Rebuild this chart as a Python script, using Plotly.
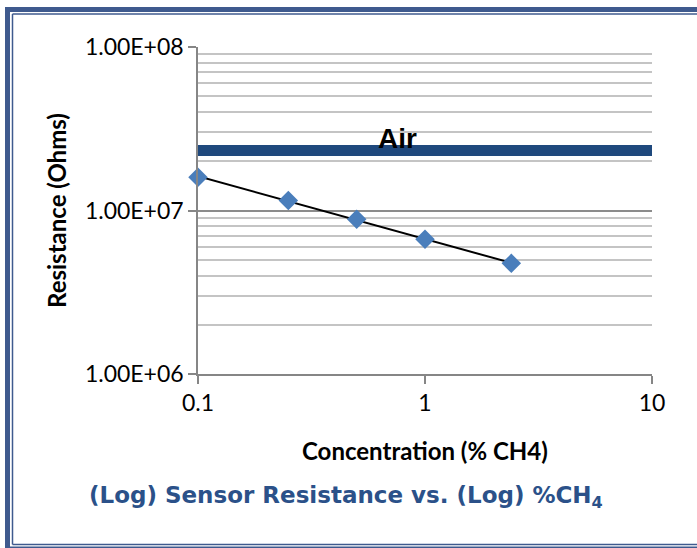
import numpy as np
import plotly.graph_objects as go

# ---- data ----
concentration = [0.1, 0.25, 0.5, 1.0, 2.4]            # % CH4
resistance = [1.60e7, 1.15e7, 8.84e6, 6.67e6, 4.75e6]  # Ohms
air_resistance = 2.33e7
x_tick_vals = [0.1, 1, 10]
x_tick_text = ["0.1", "1", "10"]
y_tick_vals = [1e6, 1e7, 1e8]
y_tick_text = ["1.00E+06", "1.00E+07", "1.00E+08"]

# power-law trendline (least squares in log-log space)
slope, intercept = np.polyfit(np.log10(concentration), np.log10(resistance), 1)
trend_x = np.array([min(concentration), max(concentration)])
trend_y = 10 ** (intercept + slope * np.log10(trend_x))

W, H = 697, 548
L, R, T, B = 198, 45, 47, 174
PW, PH = W - L - R, H - T - B


def px(x):
    return (x - L) / PW


def py(y):
    return (H - B - y) / PH


fig = go.Figure()

fig.add_trace(go.Scatter(
    x=[x_tick_vals[0], x_tick_vals[-1]], y=[air_resistance, air_resistance],
    mode="lines", line=dict(color="#1F497D", width=11), hoverinfo="skip",
    showlegend=False))

fig.add_trace(go.Scatter(
    x=trend_x, y=trend_y, mode="lines",
    line=dict(color="black", width=2), showlegend=False))

fig.add_trace(go.Scatter(
    x=concentration, y=resistance, mode="markers",
    marker=dict(symbol="diamond", size=15, color="#4A7EBB"),
    cliponaxis=False, showlegend=False))

tick_font = dict(family="Lato", size=23, color="black")

fig.update_xaxes(
    type="log", range=[-1, 1],
    tickmode="array", tickvals=x_tick_vals, ticktext=x_tick_text,
    showgrid=False, zeroline=False,
    showline=True, linecolor="#868686", linewidth=1.5,
    ticks="outside", ticklen=8, tickcolor="#868686", tickwidth=1.5,
    tickfont=tick_font,
)

fig.update_yaxes(
    type="log", range=[6, 8],
    tickmode="array", tickvals=y_tick_vals, ticktext=y_tick_text,
    showgrid=True, gridcolor="#8C8C8C", gridwidth=1.5,
    minor=dict(dtick="D1", showgrid=True, gridcolor="#C4C4C4", gridwidth=1.5, ticks=""),
    zeroline=False,
    showline=True, linecolor="#868686", linewidth=1.5,
    ticks="outside", ticklen=8, tickcolor="#868686", tickwidth=1.5,
    tickfont=tick_font,
)

border = "#3F5A8E"
shapes = [
    # outer thick frame
    dict(type="rect", xref="paper", yref="paper", x0=px(5), x1=px(10), y0=py(548), y1=py(7),
         fillcolor=border, line=dict(width=0)),
    dict(type="rect", xref="paper", yref="paper", x0=px(5), x1=px(697), y0=py(12), y1=py(7),
         fillcolor=border, line=dict(width=0)),
    dict(type="rect", xref="paper", yref="paper", x0=px(5), x1=px(697), y0=py(548), y1=py(546.5),
         fillcolor=border, line=dict(width=0)),
    # inner thin frame
    dict(type="line", xref="paper", yref="paper", x0=px(12.5), x1=px(12.5), y0=py(544.5), y1=py(14),
         line=dict(color=border, width=1.5)),
    dict(type="line", xref="paper", yref="paper", x0=px(12.5), x1=px(697), y0=py(14), y1=py(14),
         line=dict(color=border, width=1.5)),
    dict(type="line", xref="paper", yref="paper", x0=px(12.5), x1=px(697), y0=py(544.5), y1=py(544.5),
         line=dict(color=border, width=1.5)),
]

annotations = [
    dict(text="<b>Air</b>", xref="paper", yref="paper", x=px(397), y=py(138),
         xanchor="center", yanchor="middle", showarrow=False,
         font=dict(family="Liberation Sans", size=28, color="black")),
    dict(text="<b>Resistance (Ohms)</b>", xref="paper", yref="paper", x=px(57), y=py(211),
         textangle=-90, xanchor="center", yanchor="middle", showarrow=False,
         font=dict(family="Lato", size=24, color="black")),
    dict(text="<b>Concentration (% CH4)</b>", xref="paper", yref="paper", x=px(425), y=py(450),
         xanchor="center", yanchor="middle", showarrow=False,
         font=dict(family="Lato", size=24, color="black")),
    dict(text="<b>(Log) Sensor Resistance vs. (Log) %CH<sub>4</sub></b>", xref="paper", yref="paper",
         x=px(346), y=py(497), xanchor="center", yanchor="middle", showarrow=False,
         font=dict(family="DejaVu Sans", size=23, color="#2B5189")),
]

fig.update_layout(
    width=W, height=H,
    margin=dict(l=L, r=R, t=T, b=B),
    paper_bgcolor="white", plot_bgcolor="white",
    shapes=shapes, annotations=annotations,
    showlegend=False,
)

fig.write_html("out.html", config={"displayModeBar": False},
               post_script="document.body.style.margin='0';")
